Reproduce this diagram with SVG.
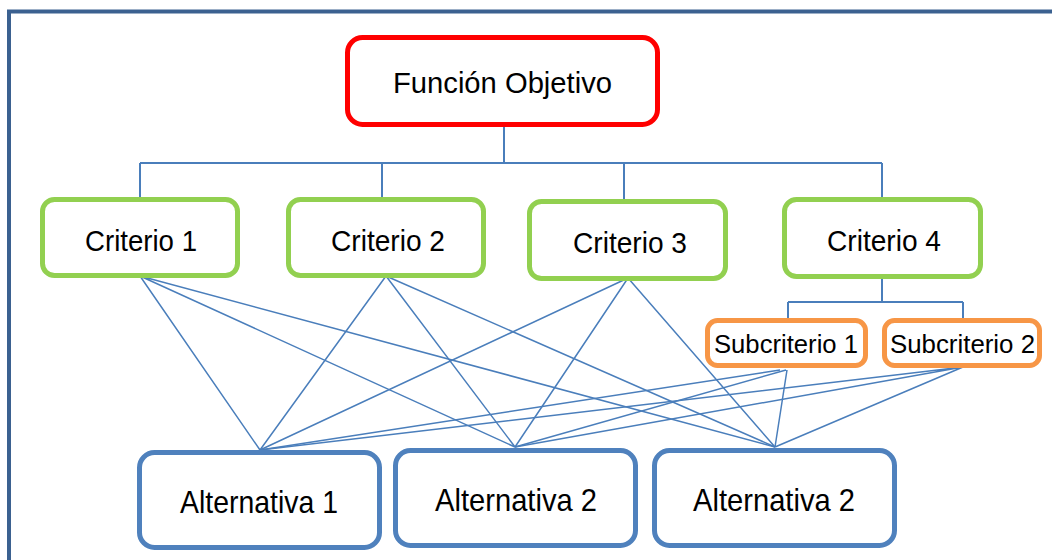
<svg xmlns="http://www.w3.org/2000/svg" width="1052" height="560" viewBox="0 0 1052 560">
<style>
.frame{fill:none;stroke:#3B6190;stroke-width:4}
.box{fill:#fff;stroke-width:5}
.obj{stroke:#FF0000}
.crit{stroke:#92D050}
.sub{stroke:#F79646}
.alt{stroke:#4F81BD}
.lbl{font-family:"Liberation Sans",Arial,sans-serif;fill:#000;text-anchor:middle}
.tree{fill:none;stroke:#4A7EBB;stroke-width:2}
.link{fill:none;stroke:#4A7EBB;stroke-width:1.5}
</style>
<rect width="1052" height="560" fill="#fff"/>
<rect class="frame" x="9" y="11.5" width="1100" height="600"/>
<g id="connectors">
  <path class="tree" d="M504 127V163M140 163H882M140 163V198M382 163V198M624 163V200M882 163V198"/>
  <path class="tree" d="M882 279V302M788 302H963M788 302V320M963 302V320"/>
  <path class="link" d="M140 276L260 450M140 276L515 447M140 276L775 447"/>
  <path class="link" d="M386 276L260 450M386 276L515 447M386 276L775 447"/>
  <path class="link" d="M628 278L260 450M628 278L515 447M628 278L775 447"/>
  <path class="link" d="M780 370L260 450M786 370L515 447M787 370L775 447"/>
  <path class="link" d="M963 367L260 450M963 367L515 447M963 367L775 447"/>
</g>
<g id="funcion-objetivo">
  <rect class="box obj" x="347.5" y="37.5" width="310" height="87" rx="15"/>
  <text class="lbl" x="502.5" y="93" font-size="29.5" textLength="219" lengthAdjust="spacingAndGlyphs">Función Objetivo</text>
</g>
<g id="criterio-1">
  <rect class="box crit" x="42.5" y="199.5" width="195" height="76" rx="12"/>
  <text class="lbl" x="141" y="251" font-size="30" textLength="112" lengthAdjust="spacingAndGlyphs">Criterio 1</text>
</g>
<g id="criterio-2">
  <rect class="box crit" x="288.5" y="199.5" width="195" height="76" rx="12"/>
  <text class="lbl" x="388" y="251" font-size="30" textLength="114" lengthAdjust="spacingAndGlyphs">Criterio 2</text>
</g>
<g id="criterio-3">
  <rect class="box crit" x="529.5" y="201.5" width="196" height="77" rx="12"/>
  <text class="lbl" x="630" y="253" font-size="30" textLength="114" lengthAdjust="spacingAndGlyphs">Criterio 3</text>
</g>
<g id="criterio-4">
  <rect class="box crit" x="784.5" y="199.5" width="196" height="77" rx="12"/>
  <text class="lbl" x="884" y="251" font-size="30" textLength="114" lengthAdjust="spacingAndGlyphs">Criterio 4</text>
</g>
<g id="subcriterio-1">
  <rect class="box sub" x="707.5" y="320.5" width="158" height="45" rx="10"/>
  <text class="lbl" x="786" y="353" font-size="26" textLength="144" lengthAdjust="spacingAndGlyphs">Subcriterio 1</text>
</g>
<g id="subcriterio-2">
  <rect class="box sub" x="884.5" y="320.5" width="155" height="45" rx="10"/>
  <text class="lbl" x="962.5" y="353" font-size="26" textLength="145" lengthAdjust="spacingAndGlyphs">Subcriterio 2</text>
</g>
<g id="alternativa-1">
  <rect class="box alt" x="139.5" y="452.5" width="240" height="95" rx="15"/>
  <text class="lbl" x="259" y="513" font-size="30.5" textLength="158" lengthAdjust="spacingAndGlyphs">Alternativa 1</text>
</g>
<g id="alternativa-2a">
  <rect class="box alt" x="395.5" y="450.5" width="240" height="95" rx="15"/>
  <text class="lbl" x="516" y="511" font-size="30.5" textLength="162" lengthAdjust="spacingAndGlyphs">Alternativa 2</text>
</g>
<g id="alternativa-2b">
  <rect class="box alt" x="654.5" y="450.5" width="240" height="95" rx="15"/>
  <text class="lbl" x="774" y="511" font-size="30.5" textLength="162" lengthAdjust="spacingAndGlyphs">Alternativa 2</text>
</g>
</svg>
